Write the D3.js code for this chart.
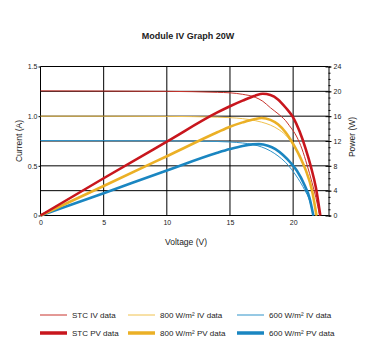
<!DOCTYPE html>
<html><head><meta charset="utf-8">
<script src="https://cdn.jsdelivr.net/npm/d3@7"></script>
<style>
body{margin:0;background:#fff;}
svg{display:block;font-family:"Liberation Sans",Arial,sans-serif;}
</style></head>
<body>
<svg id="c" width="381" height="361"></svg>
<script>
// ---- data ----
const title = "Module IV Graph 20W";
const xTicks = [0,5,10,15,20];
const yTicksLeft = [0,0.5,1.0,1.5];
const yTickLabelsLeft = ["0","0.5","1.0","1.5"];
const yGrid = [0.25,0.5,0.75,1.0,1.25,1.5];
const yTicksRight = [0,4,8,12,16,20,24];

const stcIV_V = [0,5,10,14,15,16,17,17.6,18.2,18.8,19.4,19.7,20.3,20.7,21.1,21.5,21.8,22.1];
const stcIV_I = [1.255,1.253,1.25,1.24,1.235,1.22,1.19,1.15,1.085,1.025,0.955,0.905,0.79,0.67,0.51,0.33,0.18,0];
const stcPV_V = [0,5,10,14,15,16,17,17.6,18.2,18.8,19.4,20,20.5,21,21.4,21.8,22.15];
const stcPV_P = [0,6.0,11.9,16.6,17.6,18.5,19.3,19.6,19.4,18.7,17.4,15.8,13.6,10.7,7.9,4.5,0];

const m800IV_V = [0,5,10,14,15,16,17,17.5,18.2,18.8,19.4,19.8,20.2,20.6,21,21.5,21.85];
const m800IV_I = [1.0,1.0,0.998,0.99,0.985,0.975,0.955,0.94,0.91,0.87,0.81,0.75,0.67,0.57,0.45,0.24,0];
const m800PV_V = [0,5,10,14,15,16,17,17.5,18.2,18.8,19.4,19.8,20.2,20.6,21,21.5,21.85];
const m800PV_P = [0,4.75,9.55,13.4,14.3,15.0,15.55,15.7,15.4,14.7,13.4,12.2,10.8,9.2,7.3,4.0,0];

const m600IV_V = [0,10,14,15,16,16.8,17.5,18.2,18.8,19.4,19.9,20.4,20.9,21.3,21.6];
const m600IV_I = [0.755,0.752,0.745,0.74,0.73,0.715,0.69,0.65,0.6,0.535,0.46,0.37,0.26,0.15,0];
const m600PV_V = [0,5,10,14,15,16,16.8,17.3,18,18.6,19.2,19.8,20.3,20.9,21.3,21.6];
const m600PV_P = [0,3.6,7.25,10.1,10.7,11.2,11.45,11.5,11.25,10.7,9.75,8.5,7.2,4.9,2.8,0];

const seriesNames = ["STC IV data","800 W/m² IV data","600 W/m² IV data","STC PV data","800 W/m² PV data","600 W/m² PV data"];

// ---- drawing ----
const svg = d3.select("#c");
const x = d3.scaleLinear().domain([0,22.8]).range([40.5,328.5]);
const yI = d3.scaleLinear().domain([0,1.5]).range([215.5,66.5]);
const yP = d3.scaleLinear().domain([0,24]).range([215.5,66.5]);

const colors = {
  stcThin:"#c8332c", stcThick:"#c8161d",
  yThin:"#f0c24e", yThick:"#ebb026",
  bThin:"#2f93c9", bThick:"#1a86c1"
};

svg.append("text").attr("x",188).attr("y",39).attr("text-anchor","middle")
  .attr("font-size",9).attr("font-weight","bold").attr("fill","#222").text(title);

// grid
const g = svg.append("g");
g.selectAll(".hg").data(yGrid).join("line")
  .attr("x1",x(0)).attr("x2",x.range()[1])
  .attr("y1",d=>yI(d)).attr("y2",d=>yI(d)).attr("stroke","#000").attr("stroke-width",1);
g.selectAll(".vg").data(xTicks.filter(d=>d>0)).join("line")
  .attr("x1",d=>x(d)).attr("x2",d=>x(d))
  .attr("y1",yI(0)).attr("y2",yI(1.5)).attr("stroke","#000").attr("stroke-width",1);

// axes lines
g.append("line").attr("x1",x(0)).attr("x2",x(0)).attr("y1",yI(0)).attr("y2",yI(1.5)).attr("stroke","#000");
g.append("line").attr("x1",x(0)).attr("x2",x.range()[1]).attr("y1",yI(0)).attr("y2",yI(0)).attr("stroke","#000");

// left axis labels
const left = svg.append("g").attr("transform",`translate(${x(0)},0)`)
  .call(d3.axisLeft(yI).tickValues(yTicksLeft).tickFormat((d,i)=>yTickLabelsLeft[i]).tickSize(2).tickPadding(1));
left.select(".domain").remove();
left.selectAll("text").attr("font-size",7).attr("font-family","Liberation Sans, Arial, sans-serif").attr("fill","#222");

// bottom axis labels
const bottom = svg.append("g").attr("transform",`translate(0,${yI(0)})`)
  .call(d3.axisBottom(x).tickValues(xTicks).tickSize(0).tickPadding(5));
bottom.select(".domain").remove();
bottom.selectAll("text").attr("font-size",7).attr("font-family","Liberation Sans, Arial, sans-serif").attr("fill","#222");

// right axis
const rx = x.range()[1];
const right = svg.append("g").attr("transform",`translate(${rx},0)`);
right.call(d3.axisRight(yP).ticks(24).tickSize(2).tickFormat(""));
right.select(".domain").attr("stroke","#000");
const rmaj = svg.append("g").attr("transform",`translate(${rx},0)`)
  .call(d3.axisRight(yP).tickValues(yTicksRight).tickSizeInner(3).tickSizeOuter(0).tickPadding(2));
rmaj.select(".domain").remove();
rmaj.selectAll(".tick line").attr("x1",-3);
rmaj.selectAll("text").attr("font-size",7).attr("font-family","Liberation Sans, Arial, sans-serif").attr("fill","#222");

// axis titles
svg.append("text").attr("x",186).attr("y",245).attr("text-anchor","middle").attr("font-size",8.5).attr("fill","#222").text("Voltage (V)");
svg.append("text").attr("transform","translate(22,141) rotate(-90)").attr("text-anchor","middle").attr("font-size",8.5).attr("fill","#222").text("Current (A)");
svg.append("text").attr("transform","translate(355,137) rotate(-90)").attr("text-anchor","middle").attr("font-size",8.5).attr("fill","#222").text("Power (W)");

// curves
const lineI = d3.line().x(d=>x(d[0])).y(d=>yI(d[1])).curve(d3.curveMonotoneX);
const lineP = d3.line().x(d=>x(d[0])).y(d=>yP(d[1])).curve(d3.curveMonotoneX);
const zip = (a,b)=>a.map((v,i)=>[v,b[i]]);
const curves = svg.append("g");
function draw(gen, vs, ys, col, w){
  curves.append("path").attr("d",gen(zip(vs,ys))).attr("fill","none").attr("stroke",col).attr("stroke-width",w).attr("stroke-linejoin","round");
}
draw(lineI, m600IV_V, m600IV_I, colors.bThin, 1);
draw(lineI, m800IV_V, m800IV_I, colors.yThin, 1);
draw(lineI, stcIV_V, stcIV_I, colors.stcThin, 1);
draw(lineP, m600PV_V, m600PV_P, colors.bThick, 2.6);
draw(lineP, m800PV_V, m800PV_P, colors.yThick, 2.6);
draw(lineP, stcPV_V, stcPV_P, colors.stcThick, 2.6);

// legend
const legCols = [40,128,237];
const legRows = [315,333];
const legColors = [colors.stcThin,colors.yThin,colors.bThin,colors.stcThick,colors.yThick,colors.bThick];
const leg = svg.append("g");
seriesNames.forEach((name,i)=>{
  const col = i%3, row = Math.floor(i/3);
  const lx = legCols[col], ly = legRows[row];
  leg.append("line").attr("x1",lx).attr("x2",lx+27).attr("y1",ly).attr("y2",ly)
    .attr("stroke",legColors[i]).attr("stroke-width",row===0?1:3.5);
  leg.append("text").attr("x",lx+32).attr("y",ly+3).attr("font-size",8).attr("fill","#222").text(name);
});
</script>
</body></html>
